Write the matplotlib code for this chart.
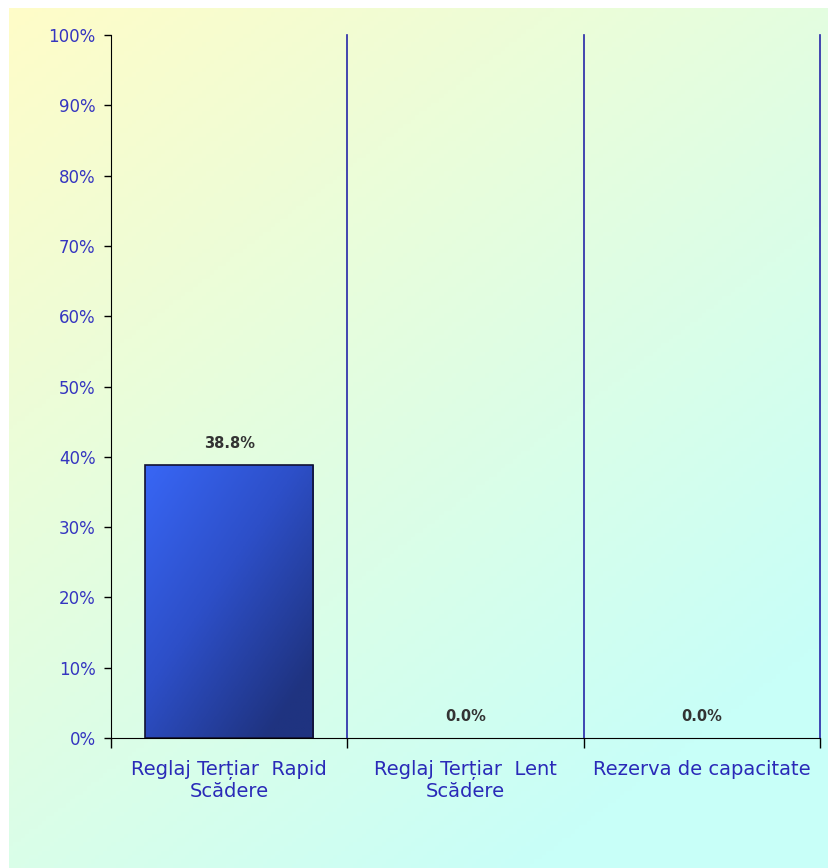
import numpy as np
import matplotlib
matplotlib.use("Agg")
import matplotlib.pyplot as plt
from matplotlib.colors import LinearSegmentedColormap
from matplotlib.patches import Rectangle

categories = ["Reglaj Terțiar  Rapid\nScădere", "Reglaj Terțiar  Lent\nScădere", "Rezerva de capacitate"]
values = [38.8, 0.0, 0.0]
yticks = [0, 10, 20, 30, 40, 50, 60, 70, 80, 90, 100]
ytick_labels = ["0%", "10%", "20%", "30%", "40%", "50%", "60%", "70%", "80%", "90%", "100%"]

plt.rcParams['font.family'] = ['DejaVu Sans']

W, H = 829, 868
fig = plt.figure(figsize=(W / 100, H / 100), dpi=100)
fig.patch.set_facecolor("white")

# background gradient panel
bg = fig.add_axes([9 / W, 0, 1 - 9 / W, 1 - 8 / H])
bg.set_axis_off()
ny, nx = 200, 200
yy, xx = np.mgrid[0:1:ny * 1j, 0:1:nx * 1j]
t = np.clip((xx * 0.55 + yy * 0.75) / 1.1, 0, 1)
c0 = np.array([255, 252, 200]) / 255
c1 = np.array([200, 255, 248]) / 255
img = c0[None, None, :] * (1 - t[..., None]) + c1[None, None, :] * t[..., None]
bg.imshow(img, aspect="auto", extent=[0, 1, 1, 0])
bg.set_xlim(0, 1)
bg.set_ylim(1, 0)

ax = fig.add_axes([111 / W, 1 - 738 / H, (820 - 111) / W, (738 - 35) / H])
ax.patch.set_alpha(0)
n = len(categories)

x = np.arange(n) + 0.5
bw = 168 / 236
edge = ["#111133" if v > 0 else "none" for v in values]
bars = ax.bar(x, values, width=bw, color="none", edgecolor=edge, linewidth=1.2, zorder=3)

bar_cmap = LinearSegmentedColormap.from_list("b", ["#3866f5", "#2d4fc8", "#1f3380"])
gy, gx = np.mgrid[0:1:100j, 0:1:100j]
grad = np.clip(gx * 0.55 + gy * 0.6, 0, 1)
for b in bars:
    if b.get_height() <= 0:
        continue
    x0, w, h = b.get_x(), b.get_width(), b.get_height()
    im = ax.imshow(grad, cmap=bar_cmap, extent=[x0, x0 + w, 0, h], origin="upper",
                   aspect="auto", zorder=2)
    clip = Rectangle((x0, 0), w, h, transform=ax.transData)
    im.set_clip_path(clip)
ax.set_xlim(0, n)
ax.set_ylim(0, 100)

for xi, v in zip(x, values):
    ax.annotate(f"{v:.1f}%", (xi, v), xytext=(0, 10), textcoords="offset points",
                ha="center", va="bottom", fontsize=10.5, fontweight="bold", color="#333333")

# separators
for i in range(1, n + 1):
    ax.axvline(i, color="#2626a8", linewidth=1.2, zorder=1, clip_on=False)

for s in ["top", "right"]:
    ax.spines[s].set_visible(False)
ax.spines["left"].set_color("black")
ax.spines["bottom"].set_color("black")

ax.set_yticks(yticks)
ax.set_yticklabels(ytick_labels, color="#3535c0", fontsize=12)
ax.tick_params(axis="y", length=5, width=1, color="black", pad=6)

ax.set_xticks(np.arange(n + 1))
ax.set_xticklabels([])
ax.tick_params(axis="x", length=7, width=1, color="black")
for xi, lab in zip(x, categories):
    ax.annotate(lab, (xi, 0), xytext=(0, -16), textcoords="offset points",
                ha="center", va="top", fontsize=14, color="#2a2ab8", linespacing=1.12)

fig.savefig("out.png", dpi=100)
